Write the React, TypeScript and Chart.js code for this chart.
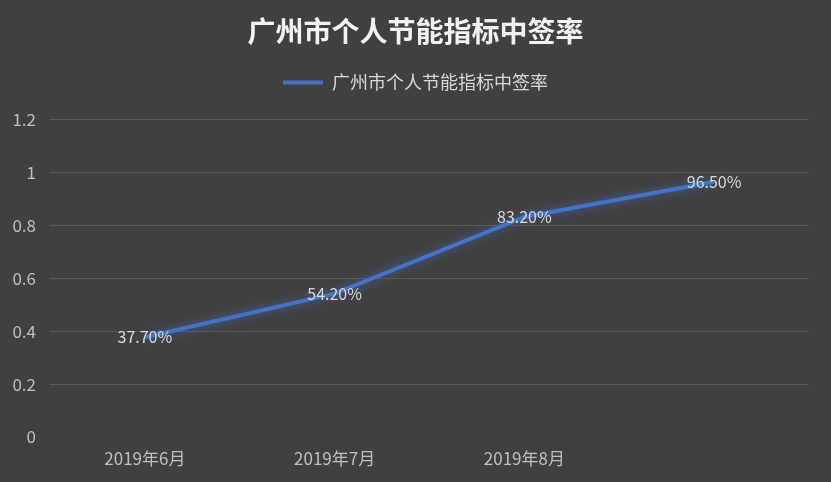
import React, { useEffect, useRef } from 'react';
import { Chart, registerables } from 'chart.js';

Chart.register(...registerables);

const TITLE = '广州市个人节能指标中签率';
const SERIES_NAME = '广州市个人节能指标中签率';
const categories = ['2019年6月', '2019年7月', '2019年8月', ''];
const rates = [0.377, 0.542, 0.832, 0.965];
const yMin = 0;
const yMax = 1.2;
const yStep = 0.2;

const FONT = '"Noto Sans CJK SC", "Noto Sans", sans-serif';
const LINE_COLOR = '#4472C4';

const glowPlugin = {
  id: 'glow',
  beforeDatasetDraw(chart: any) {
    const ctx = chart.ctx;
    ctx.save();
    ctx.shadowColor = 'rgba(68,114,196,0.75)';
    ctx.shadowBlur = 10;
  },
  afterDatasetDraw(chart: any) {
    chart.ctx.restore();
  },
};

const valueLabelPlugin = {
  id: 'valueLabels',
  afterDatasetsDraw(chart: any) {
    const ctx = chart.ctx;
    const meta = chart.getDatasetMeta(0);
    const data = chart.data.datasets[0].data as number[];
    ctx.save();
    ctx.font = `16px ${FONT}`;
    ctx.fillStyle = '#d9d9d9';
    ctx.textAlign = 'center';
    ctx.textBaseline = 'middle';
    meta.data.forEach((pt: any, i: number) => {
      ctx.fillText((data[i] * 100).toFixed(2) + '%', pt.x, pt.y);
    });
    ctx.restore();
  },
};

export default function App() {
  const ref = useRef<HTMLCanvasElement | null>(null);

  useEffect(() => {
    if (!ref.current) return;
    const chart = new Chart(ref.current, {
      type: 'line',
      data: {
        labels: categories,
        datasets: [
          {
            label: SERIES_NAME,
            data: rates,
            borderColor: LINE_COLOR,
            backgroundColor: LINE_COLOR,
            borderWidth: 4,
            pointRadius: 0,
            pointHoverRadius: 0,
            tension: 0,
            fill: false,
            yAxisID: 'y',
          },
        ],
      },
      options: {
        responsive: false,
        animation: false,
        events: [],
        layout: { padding: { top: 0, left: 0, right: 0, bottom: 0 } },
        plugins: {
          title: {
            display: true,
            text: TITLE,
            color: '#f2f2f2',
            font: { family: FONT, size: 28, weight: 'bold', lineHeight: 1.2 },
            padding: { top: 15, bottom: 15 },
          },
          legend: {
            display: true,
            position: 'top',
            labels: {
              color: '#d9d9d9',
              font: { family: FONT, size: 18 },
              boxWidth: 40,
              boxHeight: 4,
              padding: 10,
              generateLabels: () => [
                {
                  text: SERIES_NAME,
                  fillStyle: LINE_COLOR,
                  strokeStyle: LINE_COLOR,
                  lineWidth: 0,
                  hidden: false,
                  datasetIndex: 0,
                  fontColor: '#d9d9d9',
                },
              ],
            },
          },
          subtitle: {
            display: true,
            text: '',
            weight: 500,
            font: { family: FONT, size: 18, lineHeight: 1 },
            padding: 0,
          } as any,
          tooltip: { enabled: false },
        },
        scales: {
          x: {
            offset: true,
            grid: { display: false, drawTicks: false },
            border: { display: false },
            ticks: {
              color: '#bfbfbf',
              font: { family: FONT, size: 17 },
              padding: 11,
              autoSkip: false,
              maxRotation: 0,
            },
            afterFit: (scale: any) => {
              scale.height = 45;
            },
          },
          y: {
            position: 'left',
            min: yMin,
            max: yMax,
            grid: {
              color: (c: any) => (c.tick && c.tick.value === 0 ? 'rgba(0,0,0,0)' : '#595959'),
              lineWidth: 1,
              drawTicks: false,
            },
            border: { display: false },
            ticks: {
              stepSize: yStep,
              color: '#bfbfbf',
              font: { family: FONT, size: 17 },
              padding: 14,
              callback: (v: any) => String(Math.round(Number(v) * 10) / 10),
            },
            afterFit: (scale: any) => {
              scale.width = 50;
            },
          },
          rightSpace: {
            type: 'linear',
            position: 'right',
            min: yMin,
            max: yMax,
            grid: { display: false, drawTicks: false },
            border: { display: false },
            ticks: { display: false },
            afterFit: (scale: any) => {
              scale.width = 22;
            },
          },
        },
      },
      plugins: [glowPlugin, valueLabelPlugin],
    } as any);
    return () => chart.destroy();
  }, []);

  return (
    <div
      style={{
        position: 'fixed',
        left: 0,
        top: 0,
        width: 831,
        height: 482,
        background: '#404040',
      }}
    >
      <canvas ref={ref} width={831} height={482} style={{ display: 'block' }} />
    </div>
  );
}
